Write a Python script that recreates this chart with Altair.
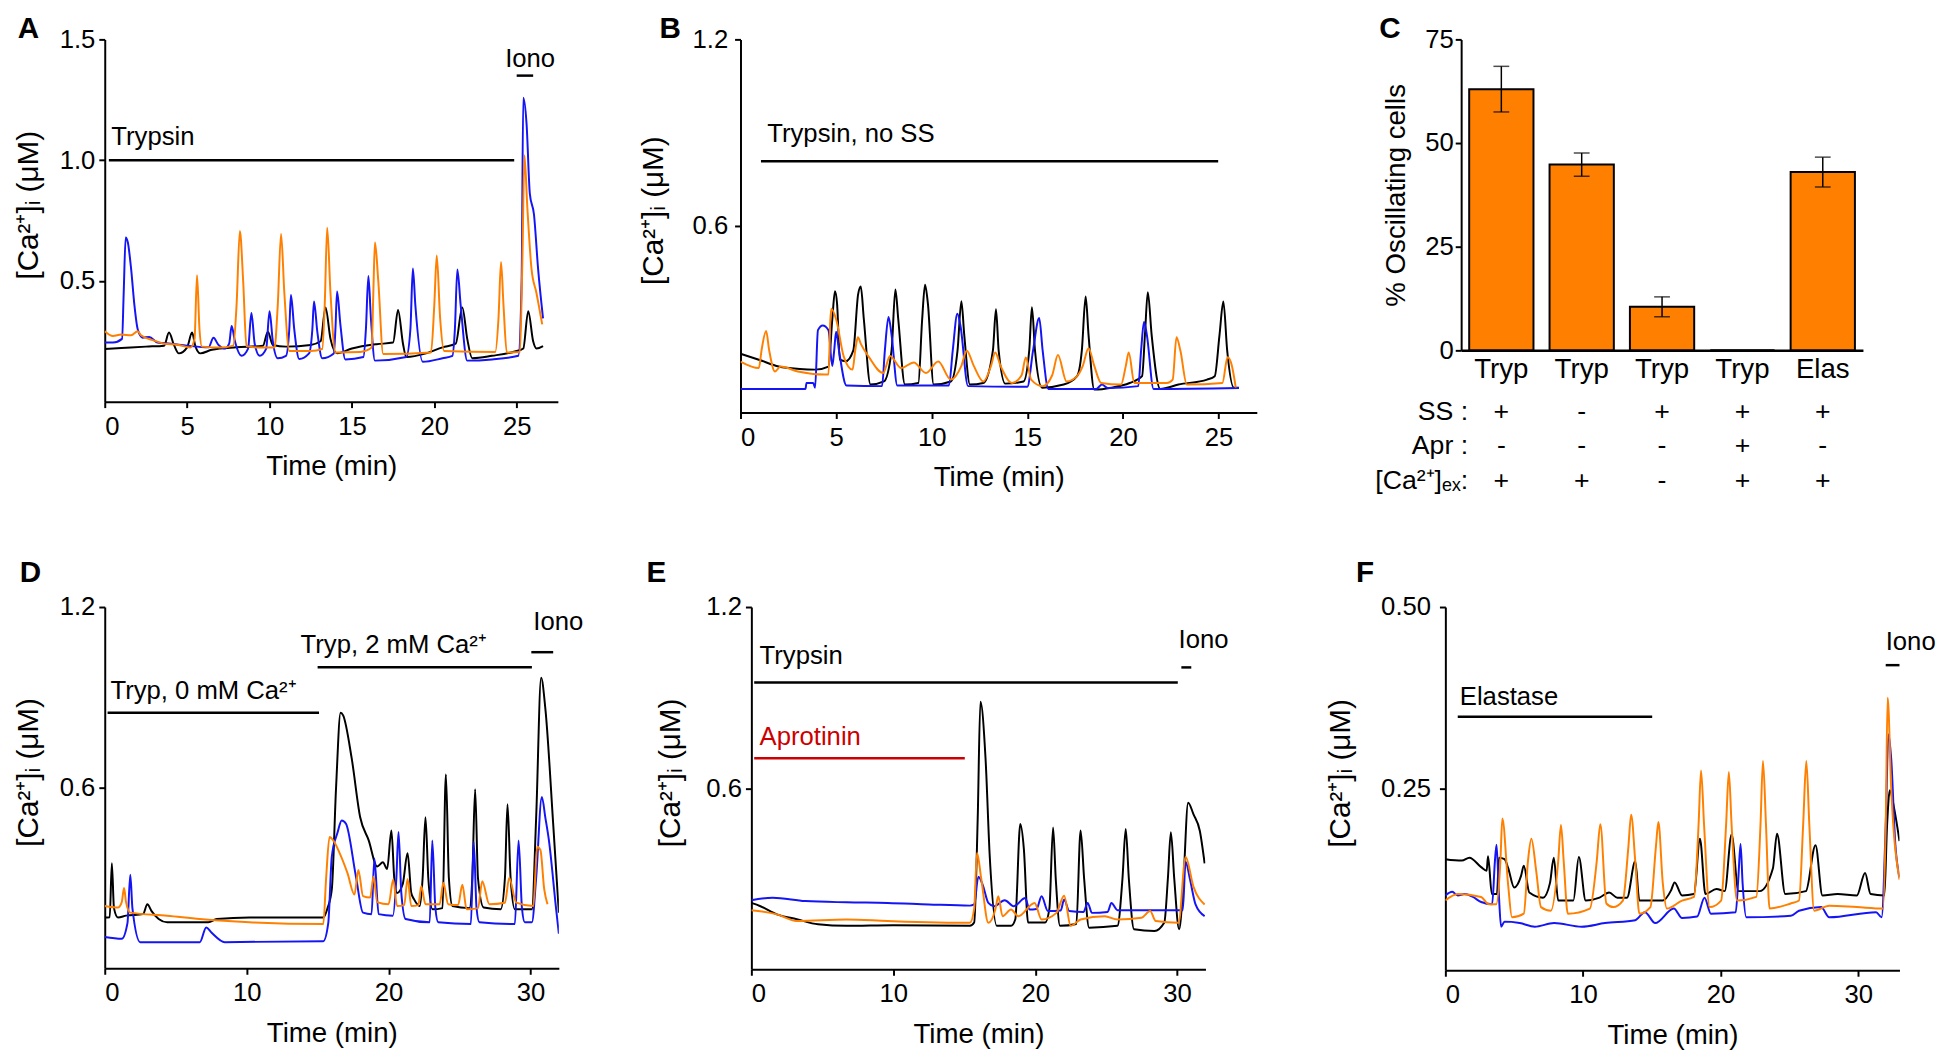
import json
import altair as alt
import pandas as pd

FONT = "Liberation Sans"
TRACE_NAMES = ["black", "blue", "orange"]
TRACE_COLORS = ["#000000", "#1414F5", "#FF8000"]
BAR_ORANGE = "#FF8000"
RED = "#CC0000"
YTITLE = "[Ca²⁺]ᵢ (μM)"

# ---------------- Panel A (trypsin) ----------------
A_black = [(0, 0.218), (1.0, 0.222), (2.5, 0.228), (3.6, 0.232), (3.9, 0.286), (4.2, 0.235), (4.5, 0.2), (5.0, 0.225),
           (5.3, 0.286), (5.5, 0.23), (5.8, 0.2), (6.5, 0.215), (8.0, 0.225), (9.6, 0.232), (9.9, 0.29), (10.2, 0.235),
           (11.0, 0.228), (12.5, 0.235), (13.1, 0.25), (13.4, 0.39), (13.7, 0.26), (14.1, 0.2), (15.0, 0.22),
           (16.5, 0.238), (17.5, 0.245), (17.8, 0.38), (18.1, 0.24), (18.3, 0.185), (19.5, 0.2), (20.5, 0.225),
           (21.3, 0.24), (21.7, 0.39), (22.0, 0.26), (22.3, 0.18), (23.5, 0.19), (25.0, 0.21), (25.4, 0.22),
           (25.7, 0.375), (26.0, 0.25), (26.2, 0.22), (26.6, 0.23)]
A_blue = [(0, 0.245), (0.5, 0.245), (1.05, 0.26), (1.15, 0.45), (1.27, 0.68), (1.4, 0.66), (1.6, 0.55), (1.8, 0.4),
          (2.0, 0.3), (2.3, 0.265), (2.7, 0.268), (3.2, 0.245), (4.0, 0.24), (5.0, 0.232), (6.3, 0.225), (6.6, 0.265),
          (6.9, 0.235), (7.3, 0.22), (7.55, 0.24), (7.7, 0.313), (7.9, 0.25), (8.3, 0.19), (8.7, 0.22), (8.9, 0.367),
          (9.1, 0.24), (9.4, 0.19), (9.8, 0.22), (10.0, 0.374), (10.2, 0.25), (10.5, 0.18), (11.0, 0.19), (11.2, 0.3),
          (11.3, 0.442), (11.5, 0.3), (11.8, 0.177), (12.4, 0.2), (12.6, 0.3), (12.7, 0.415), (12.9, 0.29),
          (13.2, 0.18), (13.9, 0.2), (14.0, 0.3), (14.1, 0.456), (14.3, 0.32), (14.6, 0.175), (15.7, 0.185),
          (15.85, 0.3), (16.0, 0.52), (16.15, 0.35), (16.4, 0.17), (18.3, 0.185), (18.55, 0.3), (18.7, 0.551),
          (18.85, 0.4), (19.3, 0.165), (20.5, 0.18), (21.1, 0.19), (21.25, 0.3), (21.4, 0.547), (21.6, 0.4),
          (22.0, 0.17), (23.5, 0.175), (25.1, 0.19), (25.3, 0.5), (25.4, 1.258), (25.6, 1.15), (25.8, 0.86),
          (26.05, 0.775), (26.3, 0.55), (26.6, 0.345)]
A_orange = [(0, 0.292), (0.5, 0.272), (1.0, 0.278), (1.6, 0.275), (2.0, 0.292), (2.2, 0.275), (3.0, 0.253), (3.6, 0.24),
            (4.5, 0.235), (5.2, 0.224), (5.45, 0.26), (5.6, 0.524), (5.75, 0.3), (5.9, 0.228), (7.0, 0.224),
            (7.8, 0.232), (8.0, 0.4), (8.2, 0.707), (8.4, 0.5), (8.6, 0.23), (9.5, 0.224), (10.3, 0.224), (10.5, 0.4),
            (10.7, 0.694), (10.9, 0.45), (11.2, 0.21), (12.5, 0.21), (13.2, 0.218), (13.35, 0.4), (13.5, 0.72),
            (13.7, 0.45), (14.0, 0.204), (15.5, 0.206), (16.2, 0.224), (16.3, 0.45), (16.4, 0.66), (16.6, 0.5),
            (16.9, 0.197), (19.8, 0.204), (20.0, 0.4), (20.15, 0.605), (20.35, 0.35), (20.6, 0.21), (23.7, 0.206),
            (23.9, 0.35), (24.05, 0.578), (24.2, 0.4), (24.4, 0.204), (25.2, 0.206), (25.35, 0.6), (25.47, 1.02),
            (25.65, 0.8), (25.9, 0.55), (26.2, 0.45), (26.55, 0.32)]
A_bars = [(0.25, 24.85, 1.0), (25.0, 26.0, 1.35)]
A_labels = [("Trypsin", 0.4, 1.095), ("Iono", 24.3, 1.42)]

# ---------------- Panel B (trypsin, no SS) ----------------
B_black = [(0, 0.189), (1.0, 0.169), (2.0, 0.148), (3.1, 0.14), (3.9, 0.138), (4.6, 0.148), (4.8, 0.3), (4.94, 0.39),
           (5.05, 0.35), (5.2, 0.17), (5.5, 0.165), (5.9, 0.2), (6.15, 0.38), (6.29, 0.405), (6.45, 0.3), (6.8, 0.09),
           (7.5, 0.1), (7.9, 0.2), (8.1, 0.396), (8.25, 0.3), (8.6, 0.09), (9.3, 0.095), (9.5, 0.3), (9.65, 0.411),
           (9.8, 0.35), (10.1, 0.09), (11.0, 0.1), (11.35, 0.2), (11.55, 0.358), (11.7, 0.25), (12.0, 0.09),
           (12.7, 0.095), (13.2, 0.2), (13.36, 0.332), (13.5, 0.2), (13.85, 0.093), (14.8, 0.1), (15.1, 0.2),
           (15.24, 0.339), (15.4, 0.2), (15.77, 0.08), (16.9, 0.09), (17.6, 0.117), (17.85, 0.2), (18.05, 0.373),
           (18.2, 0.25), (18.5, 0.074), (19.4, 0.08), (20.35, 0.095), (21.0, 0.117), (21.15, 0.25), (21.3, 0.387),
           (21.5, 0.25), (21.95, 0.076), (22.9, 0.09), (24.4, 0.106), (24.8, 0.117), (25.05, 0.25), (25.25, 0.357),
           (25.45, 0.2), (25.8, 0.08), (26.07, 0.08)]
B_blue = [(0, 0.076), (3.4, 0.076), (3.45, 0.095), (3.8, 0.095), (3.9, 0.08), (4.05, 0.265), (4.3, 0.28), (4.6, 0.265),
          (4.8, 0.15), (4.9, 0.2), (5.0, 0.26), (5.15, 0.2), (5.54, 0.087), (7.4, 0.085), (7.55, 0.2), (7.74, 0.307),
          (7.9, 0.25), (8.2, 0.087), (10.9, 0.087), (11.1, 0.2), (11.34, 0.318), (11.5, 0.28), (11.9, 0.085),
          (15.0, 0.083), (15.3, 0.2), (15.62, 0.304), (15.8, 0.2), (16.1, 0.076), (18.6, 0.076), (18.9, 0.09),
          (19.2, 0.079), (20.8, 0.085), (20.95, 0.2), (21.1, 0.291), (21.25, 0.25), (21.6, 0.076), (26.07, 0.079)]
B_orange = [(0, 0.164), (0.96, 0.143), (1.1, 0.2), (1.34, 0.262), (1.5, 0.2), (1.8, 0.132), (2.1, 0.148), (3.0, 0.132),
            (4.4, 0.122), (4.6, 0.122), (4.7, 0.3), (4.75, 0.334), (5.0, 0.3), (5.4, 0.18), (5.86, 0.138), (6.0, 0.2),
            (6.14, 0.242), (6.3, 0.22), (6.7, 0.18), (7.46, 0.127), (7.82, 0.182), (8.4, 0.143), (9.06, 0.161),
            (9.7, 0.127), (10.34, 0.164), (11.0, 0.106), (11.55, 0.15), (11.83, 0.199), (12.2, 0.15), (12.7, 0.1),
            (13.1, 0.15), (13.32, 0.193), (13.6, 0.15), (14.2, 0.095), (14.7, 0.12), (14.92, 0.177), (15.2, 0.106),
            (15.8, 0.085), (16.3, 0.12), (16.6, 0.185), (17.05, 0.1), (17.6, 0.117), (17.9, 0.15), (18.2, 0.207),
            (18.5, 0.15), (18.86, 0.095), (19.9, 0.09), (20.15, 0.15), (20.3, 0.193), (20.6, 0.095), (22.3, 0.095),
            (22.6, 0.106), (22.8, 0.242), (23.0, 0.2), (23.34, 0.09), (25.2, 0.095), (25.47, 0.178), (25.7, 0.15),
            (25.9, 0.08)]
B_bars = [(1.07, 24.98, 0.808)]
B_labels = [("Trypsin, no SS", 1.4, 0.895)]

# ---------------- Panel C (bar chart) ----------------
C_names = ["Tryp", "Tryp", "Tryp", "Tryp", "Elas"]
C_values = [63.0, 44.8, 10.5, 0.0, 43.0]
C_sem = [5.5, 2.8, 2.4, 0.0, 3.6]
C_SS = ["+", "-", "+", "+", "+"]
C_Apr = ["-", "-", "-", "+", "-"]
C_Ca = ["+", "+", "-", "+", "+"]
C_row_labels = ["SS :", "Apr :", "[Ca²⁺]ₑₓ:"]

# ---------------- Panel D (0 / 2 mM Ca) ----------------
D_black = [(0, 0.169), (0.35, 0.17), (0.5, 0.349), (0.65, 0.2), (0.93, 0.169), (1.5, 0.175), (2.7, 0.18), (3.0, 0.213),
           (3.3, 0.19), (3.8, 0.164), (4.4, 0.153), (7.3, 0.153), (7.9, 0.164), (10.2, 0.169), (15.4, 0.169),
           (15.7, 0.2), (16.0, 0.262), (16.3, 0.6), (16.62, 0.849), (16.8, 0.84), (17.4, 0.698), (18.0, 0.502),
           (18.6, 0.425), (19.2, 0.338), (19.6, 0.352), (19.9, 0.33), (20.2, 0.458), (20.4, 0.3), (20.6, 0.25),
           (21.0, 0.28), (21.34, 0.382), (21.6, 0.25), (21.8, 0.229), (22.2, 0.207), (22.4, 0.3), (22.6, 0.502),
           (22.8, 0.3), (23.1, 0.196), (23.8, 0.2), (24.04, 0.644), (24.25, 0.3), (24.5, 0.207), (25.7, 0.2),
           (25.9, 0.3), (26.1, 0.595), (26.3, 0.3), (26.7, 0.202), (27.9, 0.196), (28.2, 0.3), (28.38, 0.545),
           (28.6, 0.3), (28.9, 0.196), (30.1, 0.196), (30.4, 0.5), (30.75, 0.965), (31.05, 0.862), (31.6, 0.48),
           (32.0, 0.185)]
D_blue = [(0, 0.104), (1.2, 0.098), (1.6, 0.15), (1.8, 0.311), (1.95, 0.2), (2.5, 0.087), (6.7, 0.087), (7.15, 0.136),
          (7.5, 0.12), (8.46, 0.087), (15.4, 0.09), (15.75, 0.15), (16.0, 0.371), (16.4, 0.45), (16.7, 0.491),
          (17.0, 0.48), (17.7, 0.305), (18.2, 0.185), (18.8, 0.18), (19.0, 0.365), (19.3, 0.18), (20.3, 0.175),
          (20.55, 0.3), (20.7, 0.453), (20.9, 0.25), (21.2, 0.164), (22.9, 0.153), (23.08, 0.425), (23.3, 0.2),
          (23.5, 0.153), (25.8, 0.147), (26.0, 0.42), (26.2, 0.2), (26.4, 0.153), (28.9, 0.147), (29.16, 0.425),
          (29.4, 0.2), (29.6, 0.153), (30.1, 0.153), (30.4, 0.3), (30.8, 0.569), (31.05, 0.5), (31.3, 0.425),
          (31.8, 0.2), (32.0, 0.115)]
D_orange = [(0, 0.207), (0.93, 0.202), (1.2, 0.22), (1.36, 0.267), (1.5, 0.22), (1.8, 0.185), (4.4, 0.175),
            (6.7, 0.164), (10.2, 0.153), (15.4, 0.147), (15.6, 0.3), (15.84, 0.436), (16.1, 0.425), (16.56, 0.382),
            (17.1, 0.317), (17.6, 0.245), (17.87, 0.327), (18.2, 0.24), (18.7, 0.235), (18.94, 0.305), (19.2, 0.22),
            (20.0, 0.213), (20.33, 0.295), (20.6, 0.207), (21.1, 0.21), (21.34, 0.297), (21.6, 0.207), (22.1, 0.21),
            (22.3, 0.273), (22.6, 0.213), (23.6, 0.213), (23.86, 0.284), (24.2, 0.213), (24.9, 0.21), (25.2, 0.278),
            (25.5, 0.196), (26.3, 0.2), (26.6, 0.289), (27.1, 0.213), (28.2, 0.218), (28.5, 0.3), (29.0, 0.218),
            (30.2, 0.207), (30.47, 0.404), (30.7, 0.393), (30.97, 0.262), (31.2, 0.213)]
D_bars = [(0.2, 15.1, 0.849), (15.0, 30.1, 1.0), (30.06, 31.6, 1.05)]
D_labels = [("Tryp, 0 mM Ca²⁺", 0.4, 0.922), ("Tryp, 2 mM Ca²⁺", 13.8, 1.075), ("Iono", 30.2, 1.15)]

# ---------------- Panel E (aprotinin) ----------------
E_black = [(0, 0.22), (0.64, 0.209), (1.8, 0.182), (3.2, 0.166), (4.7, 0.149), (6.7, 0.144), (10.0, 0.146),
           (15.4, 0.144), (15.7, 0.155), (15.95, 0.5), (16.14, 0.886), (16.5, 0.7), (16.8, 0.373), (17.3, 0.144),
           (18.3, 0.144), (18.6, 0.166), (18.95, 0.481), (19.2, 0.4), (19.5, 0.155), (20.7, 0.155), (21.0, 0.2),
           (21.26, 0.47), (21.45, 0.3), (21.75, 0.144), (22.9, 0.15), (23.2, 0.46), (23.45, 0.3), (23.8, 0.138),
           (25.8, 0.144), (26.15, 0.3), (26.38, 0.465), (26.6, 0.3), (26.96, 0.133), (28.4, 0.127), (29.1, 0.155),
           (29.35, 0.3), (29.56, 0.454), (29.8, 0.3), (30.14, 0.133), (30.4, 0.25), (30.78, 0.552), (31.15, 0.514),
           (31.6, 0.459), (31.94, 0.351)]
E_blue = [(0, 0.229), (1.5, 0.237), (3.8, 0.226), (6.7, 0.222), (9.6, 0.22), (12.5, 0.215), (15.4, 0.211),
          (15.7, 0.215), (16.0, 0.307), (16.3, 0.28), (16.7, 0.22), (17.1, 0.209), (17.85, 0.229), (18.5, 0.209),
          (19.3, 0.236), (19.6, 0.198), (20.1, 0.2), (20.45, 0.242), (20.9, 0.193), (21.8, 0.195), (22.04, 0.231),
          (22.4, 0.193), (23.4, 0.19), (23.7, 0.22), (24.0, 0.187), (25.1, 0.19), (25.37, 0.22), (25.8, 0.196),
          (30.4, 0.196), (30.6, 0.356), (30.9, 0.3), (31.3, 0.215), (31.94, 0.176)]
E_orange = [(0, 0.196), (1.8, 0.182), (3.2, 0.16), (6.7, 0.165), (9.6, 0.16), (15.4, 0.154), (15.7, 0.2),
            (15.9, 0.385), (16.2, 0.3), (16.7, 0.154), (17.2, 0.2), (17.4, 0.242), (17.7, 0.176), (18.3, 0.198),
            (18.8, 0.176), (19.96, 0.22), (20.45, 0.165), (21.5, 0.187), (22.04, 0.244), (22.5, 0.144),
            (23.2, 0.165), (24.9, 0.176), (25.8, 0.165), (27.5, 0.171), (28.1, 0.193), (28.5, 0.16), (30.1, 0.154),
            (30.6, 0.372), (31.15, 0.274), (31.94, 0.215)]
E_bars = [(0.2, 30.05, 0.95), (30.3, 31.0, 1.0)]
E_labels = [("Trypsin", 0.58, 1.037), ("Iono", 30.1, 1.09)]
E_inhib_bars = [(0.2, 15.04, 0.699)]
E_inhib_labels = [("Aprotinin", 0.58, 0.768)]

# ---------------- Panel F (elastase) ----------------
F_black = [(0, 0.153), (1.2, 0.151), (1.75, 0.155), (2.6, 0.142), (3.0, 0.137), (3.1, 0.157), (3.38, 0.105),
           (3.75, 0.105), (3.9, 0.155), (4.3, 0.153), (4.56, 0.141), (5.0, 0.114), (5.5, 0.13), (5.7, 0.144),
           (6.1, 0.107), (7.1, 0.1), (7.6, 0.12), (7.88, 0.155), (8.2, 0.096), (9.3, 0.096), (9.7, 0.156),
           (10.2, 0.096), (11.2, 0.1), (11.9, 0.107), (12.5, 0.1), (13.2, 0.1), (13.8, 0.15), (14.1, 0.096),
           (15.8, 0.096), (16.4, 0.11), (16.66, 0.121), (17.2, 0.103), (18.07, 0.105), (18.5, 0.181), (18.9, 0.105),
           (19.7, 0.112), (20.3, 0.109), (20.8, 0.187), (21.3, 0.109), (22.85, 0.109), (23.8, 0.14), (24.1, 0.188),
           (24.7, 0.105), (26.2, 0.109), (26.9, 0.172), (27.4, 0.103), (28.5, 0.105), (29.9, 0.103), (30.5, 0.134),
           (30.9, 0.105), (31.9, 0.103), (32.1, 0.2), (32.3, 0.248), (32.56, 0.228), (33.0, 0.178)]
F_blue = [(0, 0.103), (0.5, 0.108), (0.9, 0.103), (1.4, 0.105), (2.0, 0.101), (2.6, 0.094), (3.4, 0.091), (3.6, 0.15),
          (3.72, 0.173), (3.9, 0.1), (4.05, 0.06), (4.3, 0.067), (5.4, 0.065), (6.5, 0.06), (7.9, 0.065),
          (9.9, 0.06), (11.6, 0.065), (13.8, 0.069), (14.5, 0.08), (15.25, 0.065), (16.6, 0.085), (17.2, 0.072),
          (18.3, 0.074), (18.83, 0.1), (19.3, 0.078), (21.1, 0.08), (21.3, 0.13), (21.45, 0.174), (21.6, 0.12),
          (21.87, 0.073), (25.1, 0.075), (25.7, 0.082), (27.3, 0.087), (27.9, 0.073), (31.3, 0.08), (31.7, 0.073),
          (32.0, 0.2), (32.2, 0.325), (32.4, 0.291), (32.7, 0.173), (33.0, 0.128)]
F_orange = [(0, 0.096), (0.9, 0.105), (2.6, 0.101), (3.16, 0.091), (3.7, 0.091), (4.0, 0.15), (4.14, 0.209),
            (4.56, 0.118), (4.84, 0.073), (5.7, 0.078), (6.0, 0.15), (6.25, 0.181), (6.6, 0.137), (6.95, 0.087),
            (7.66, 0.082), (8.2, 0.15), (8.4, 0.2), (8.6, 0.15), (8.9, 0.078), (10.5, 0.085), (11.0, 0.15),
            (11.26, 0.201), (11.7, 0.092), (12.2, 0.087), (12.9, 0.096), (13.3, 0.17), (13.5, 0.214), (13.8, 0.15),
            (14.1, 0.078), (14.9, 0.087), (15.3, 0.17), (15.48, 0.204), (15.8, 0.12), (16.1, 0.085), (17.2, 0.096),
            (18.07, 0.101), (18.4, 0.2), (18.58, 0.275), (18.8, 0.2), (19.2, 0.087), (20.04, 0.096), (20.4, 0.2),
            (20.6, 0.273), (20.8, 0.2), (21.2, 0.096), (22.6, 0.101), (22.9, 0.2), (23.08, 0.288), (23.3, 0.2),
            (23.56, 0.085), (25.1, 0.092), (25.7, 0.096), (26.0, 0.2), (26.23, 0.288), (26.45, 0.2), (26.8, 0.082),
            (27.9, 0.089), (29.9, 0.087), (31.8, 0.085), (32.0, 0.2), (32.14, 0.375), (32.4, 0.25), (33.0, 0.125)]
F_bars = [(0.9, 15.03, 0.349), (32.0, 33.0, 0.42)]
F_labels = [("Elastase", 1.05, 0.376), ("Iono", 32.0, 0.452)]


# ---------------- helpers ----------------
def traces_df(black, blue, orange):
    rows = []
    for name, pts in zip(TRACE_NAMES, (black, blue, orange)):
        for t, v in pts:
            rows.append({"t": t, "v": v, "trace": name})
    return pd.DataFrame(rows)


def bars_df(bars):
    return pd.DataFrame([{"t": a, "t2": b, "v": y} for a, b, y in bars])


def labels_df(labels):
    return pd.DataFrame([{"label": s, "t": t, "v": y} for s, t, y in labels])


def panel_title(letter, dx, offset):
    return alt.TitleParams(letter, anchor="start", frame="bounds", dx=dx, offset=offset,
                           fontSize=30, fontWeight="bold", font=FONT, color="black")


def trace_panel(letter, dx, toff, traces, bars, labels, xmax, xticks, ymax, yticks, yfmt, width, height,
                tpad, lpad=4, inhib_bars=None, inhib_labels=None):
    xs = alt.Scale(domain=[0, xmax], nice=False, zero=True)
    ys = alt.Scale(domain=[0, ymax], nice=False, zero=True)
    xax = alt.Axis(values=xticks, format="d", title="Time (min)", labelPadding=6, titlePadding=14)
    yax = alt.Axis(values=yticks, format=yfmt, title=YTITLE, titlePadding=tpad, labelPadding=lpad,
                   titleY=height / 2 - 16, titleFontSize=30)

    def X(f):
        return alt.X(f, scale=xs, axis=xax)

    def Y(f):
        return alt.Y(f, scale=ys, axis=yax)

    lines = alt.Chart(traces).mark_line(strokeWidth=2, clip=True, interpolate="monotone").encode(
        x=X("t:Q"), y=Y("v:Q"),
        color=alt.Color("trace:N", scale=alt.Scale(domain=TRACE_NAMES, range=TRACE_COLORS), legend=None),
    )
    layers = [lines]

    def add_annotations(bdf, ldf, color):
        layers.append(alt.Chart(bdf).mark_rule(strokeWidth=2.5, color=color).encode(
            x=X("t:Q"), x2=alt.X2("t2:Q"), y=Y("v:Q")))
        layers.append(alt.Chart(ldf).mark_text(align="left", baseline="middle", fontSize=26, font=FONT,
                                               color=color).encode(x=X("t:Q"), y=Y("v:Q"), text="label:N"))

    add_annotations(bars_df(bars), labels_df(labels), "black")
    if inhib_bars is not None:
        add_annotations(bars_df(inhib_bars), labels_df(inhib_labels), RED)
    return alt.layer(*layers).properties(width=width, height=height, title=panel_title(letter, dx, toff))


TOP_OFF = -18
BOT_OFF = 6

# ---------------- panels ----------------
chart_A = trace_panel("A", 4, TOP_OFF, traces_df(A_black, A_blue, A_orange), A_bars, A_labels,
                      27.5, [0, 5, 10, 15, 20, 25], 1.5, [0.5, 1.0, 1.5], ".1f", 459, 367, 16)
chart_B = trace_panel("B", 21, TOP_OFF, traces_df(B_black, B_blue, B_orange), B_bars, B_labels,
                      27, [0, 5, 10, 15, 20, 25], 1.2, [0.6, 1.2], ".1f", 523, 378, 24, lpad=7)
chart_D = trace_panel("D", 6, BOT_OFF, traces_df(D_black, D_blue, D_orange), D_bars, D_labels,
                      32, [0, 10, 20, 30], 1.2, [0.6, 1.2], ".1f", 460, 366, 16)
chart_E = trace_panel("E", -9, BOT_OFF, traces_df(E_black, E_blue, E_orange), E_bars, E_labels,
                      32, [0, 10, 20, 30], 1.2, [0.6, 1.2], ".1f", 460, 367, 21,
                      inhib_bars=E_inhib_bars, inhib_labels=E_inhib_labels)
chart_F = trace_panel("F", 31, BOT_OFF, traces_df(F_black, F_blue, F_orange), F_bars, F_labels,
                      33, [0, 10, 20, 30], 0.5, [0.25, 0.5], ".2f", 460, 368, 26, lpad=9)

# Panel C
C_W, C_H = 407, 315
cdf = pd.DataFrame({
    "i": list(range(len(C_names))),
    "val": C_values,
    "lo": [v - s for v, s in zip(C_values, C_sem)],
    "hi": [v + s for v, s in zip(C_values, C_sem)],
    "sem": C_sem,
    "ss": C_SS, "apr": C_Apr, "ca": C_Ca,
})
cx = alt.X("i:O", scale=alt.Scale(paddingInner=0.2, paddingOuter=0.1),
           axis=alt.Axis(title=None, ticks=False, labelAngle=0, labelFontSize=28, labelPadding=5,
                         domainWidth=2.5, labelExpr=json.dumps(C_names) + "[datum.value]"))
cy_scale = alt.Scale(domain=[0, 75], nice=False)
cy_axis = alt.Axis(values=[0, 25, 50, 75], format="d", title="% Oscillating cells", titlePadding=14)

c_bars = alt.Chart(cdf).mark_bar(fill=BAR_ORANGE, stroke="black", strokeWidth=2).encode(
    x=cx, y=alt.Y("val:Q", scale=cy_scale, axis=cy_axis))
c_err = alt.Chart(cdf).transform_filter("datum.sem > 0").mark_rule(strokeWidth=1.5, color="black").encode(
    x=cx, y=alt.Y("lo:Q", scale=cy_scale, axis=cy_axis), y2="hi:Q")
c_cap_hi = alt.Chart(cdf).transform_filter("datum.sem > 0").mark_tick(size=16, thickness=1.5, color="black").encode(
    x=cx, y=alt.Y("hi:Q", scale=cy_scale, axis=cy_axis))
c_cap_lo = alt.Chart(cdf).transform_filter("datum.sem > 0").mark_tick(size=16, thickness=1.5, color="black").encode(
    x=cx, y=alt.Y("lo:Q", scale=cy_scale, axis=cy_axis))

c_layers = [c_bars, c_err, c_cap_hi, c_cap_lo]
row_y = [C_H + 63, C_H + 97, C_H + 132]
for field, label, ypx in zip(["ss", "apr", "ca"], C_row_labels, row_y):
    c_layers.append(alt.Chart(cdf).mark_text(fontSize=27, font=FONT, color="black", baseline="middle").encode(
        x=cx, y=alt.value(ypx), text=f"{field}:N"))
    c_layers.append(alt.Chart(pd.DataFrame({"label": [label]})).mark_text(
        fontSize=27, font=FONT, color="black", baseline="middle", align="right").encode(
        x=alt.value(7), y=alt.value(ypx), text="label:N"))

chart_C = alt.layer(*c_layers).properties(width=C_W, height=C_H, title=panel_title("C", 4, TOP_OFF))

row1 = alt.hconcat(alt.hconcat(chart_A, chart_B, spacing=81), chart_C, spacing=120)
row2 = alt.hconcat(alt.hconcat(chart_D, chart_E, spacing=63), chart_F, spacing=97)

chart = alt.vconcat(row1, row2, spacing=66).properties(
    padding={"left": 5, "top": 0, "right": 0, "bottom": 0}
).configure_axis(
    domainColor="black", domainWidth=2, tickColor="black", tickWidth=2, tickSize=6,
    labelFont=FONT, labelFontSize=26, labelColor="black",
    titleFont=FONT, titleFontSize=28, titleFontWeight="normal", titleColor="black", grid=False,
).configure_view(stroke=None)

chart.save("out.html", embed_options={"renderer": "svg", "actions": False})
